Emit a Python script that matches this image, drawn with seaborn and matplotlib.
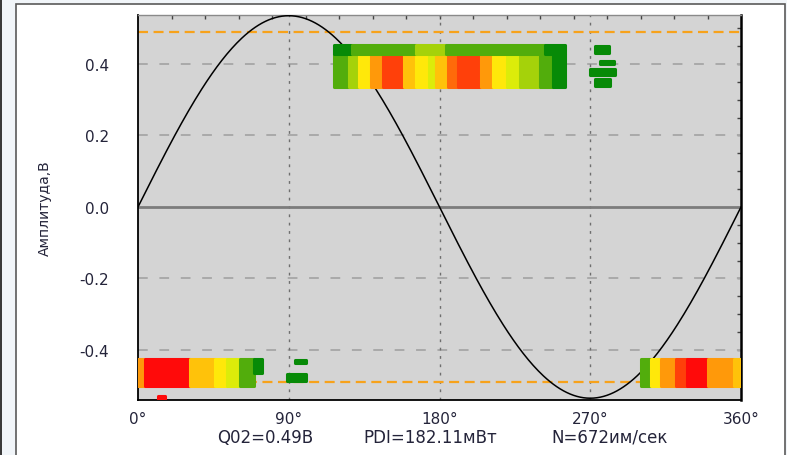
import numpy as np
import pandas as pd
import matplotlib
matplotlib.use("Agg")
import matplotlib.pyplot as plt
import seaborn as sns
from matplotlib.patches import Rectangle
from matplotlib.ticker import MultipleLocator

# ---------------- data ----------------
SINE_AMPLITUDE = 0.535          # reference voltage curve (V)
SINE_PHASE = np.arange(0, 361, 1)
THRESHOLD = 0.49                # Q02 level (V)

X_TICKS = [0, 90, 180, 270, 360]
X_LABELS = ["0°", "90°", "180°", "270°", "360°"]
Y_TICKS = [-0.4, -0.2, 0.0, 0.2, 0.4]
Y_LABELS = ["-0.4", "-0.2", "0.0", "0.2", "0.4"]

# density level colours (low -> high)
LEVEL_COLORS = ["#078a07", "#52ad0c", "#a5d20a", "#dcec0a", "#ffe80a",
                "#ffc20a", "#ff990a", "#ff6a0a", "#ff400a", "#ff0a0a"]

# positive half-period cluster: body columns
POS_BODY_EDGES = [117, 126, 132, 139, 146, 159, 166, 174, 178, 185, 191,
                  205, 212, 220, 228, 240, 248, 255]
POS_BODY_LEVELS = [1, 2, 4, 6, 8, 5, 4, 3, 5, 7, 8, 6, 4, 3, 2, 1, 0]
POS_BODY_AMP = (0.336, 0.428)
# positive cluster: upper fringe
POS_TOP_EDGES = [117, 128, 166, 184, 243, 255]
POS_TOP_LEVELS = [0, 1, 2, 1, 0]
POS_TOP_AMP = (0.428, 0.453)

# negative half-period cluster near 0°
NEG_L_EDGES = [0, 4, 31, 46, 53, 61, 69]
NEG_L_LEVELS = [6, 9, 5, 4, 3, 1]
NEG_L_AMP = (-0.502, -0.424)

# negative half-period cluster near 360°
NEG_R_EDGES = [300, 306, 312, 321, 328, 340, 356, 360]
NEG_R_LEVELS = [1, 4, 6, 8, 9, 6, 5]
NEG_R_AMP = (-0.502, -0.424)

# isolated small groups: phase_lo, phase_hi, amp_lo, amp_hi, level
BLOB_PHASE_LO = [69, 89, 94, 12, 273, 276, 270, 273]
BLOB_PHASE_HI = [74, 100, 100, 16, 281, 284, 285, 282]
BLOB_AMP_LO = [-0.465, -0.488, -0.436, -0.546, 0.430, 0.401, 0.368, 0.338]
BLOB_AMP_HI = [-0.426, -0.466, -0.427, -0.530, 0.450, 0.409, 0.386, 0.357]
BLOB_LEVEL = [0, 0, 0, 9, 0, 0, 0, 0]

STATS = ["Q02=0.49В", "PDI=182.11мВт", "N=672им/сек"]
Y_TITLE = "Амплитуда,В"

# ---------------- figure ----------------
sns.set_style("white")
plt.rcParams["font.family"] = ["DejaVu Sans"]
plt.rcParams["axes.unicode_minus"] = False
TXT = "#24243a"

fig = plt.figure(figsize=(7.87, 4.56), dpi=100)
fig.patch.set_facecolor("#f1f5f9")
# white panel with frame
fig.patches.append(Rectangle((16 / 787, -0.02), (785 - 16) / 787, 1.02 - 5 / 456,
                             transform=fig.transFigure, facecolor="white",
                             edgecolor="#5a5a5a", linewidth=1.2, zorder=-10))
fig.patches.append(Rectangle((0, 0), 2 / 787, 1, transform=fig.transFigure,
                             facecolor="#3a3a3a", edgecolor="none", zorder=-10))

ax = fig.add_axes([138 / 787, 1 - 401 / 456, (741 - 138) / 787, (401 - 16) / 456])
ax.set_facecolor("#d4d4d4")

# grid
for yv in [-0.4, -0.2, 0.2, 0.4]:
    ax.axhline(yv, color="#a9a9a9", lw=1.4, dashes=(5, 6), zorder=1)
for xv in [90, 180, 270]:
    ax.axvline(xv, color="#6e6e6e", lw=1.0, dashes=(2, 4), zorder=1)
ax.axhline(0, color="#7c7c7c", lw=2.0, zorder=1)

# threshold lines
for yv in [THRESHOLD, -THRESHOLD]:
    ax.axhline(yv, color="#f7a21b", lw=1.6, dashes=(4.5, 2.5), zorder=2)

# reference sine
sine_df = pd.DataFrame({"phase": SINE_PHASE,
                        "amp": SINE_AMPLITUDE * np.sin(np.deg2rad(SINE_PHASE))})
sns.lineplot(data=sine_df, x="phase", y="amp", color="black", lw=1.1,
             ax=ax, zorder=3)


def draw_columns(edges, levels, amp):
    for lo, hi, lev in zip(edges[:-1], edges[1:], levels):
        c = LEVEL_COLORS[lev]
        bars = ax.bar(lo, amp[1] - amp[0], width=hi - lo, bottom=amp[0],
                      align="edge", color=c, edgecolor=c, linewidth=2.2,
                      zorder=4)
        for p in bars:
            p.set_joinstyle("round")


draw_columns(POS_BODY_EDGES, POS_BODY_LEVELS, POS_BODY_AMP)
draw_columns(POS_TOP_EDGES, POS_TOP_LEVELS, POS_TOP_AMP)
draw_columns(NEG_L_EDGES, NEG_L_LEVELS, NEG_L_AMP)
draw_columns(NEG_R_EDGES, NEG_R_LEVELS, NEG_R_AMP)
for lo, hi, alo, ahi, lev in zip(BLOB_PHASE_LO, BLOB_PHASE_HI, BLOB_AMP_LO,
                                 BLOB_AMP_HI, BLOB_LEVEL):
    c = LEVEL_COLORS[lev]
    bars = ax.bar(lo, ahi - alo, width=hi - lo, bottom=alo, align="edge",
                  color=c, edgecolor=c, linewidth=2.2, zorder=4)
    for p in bars:
        p.set_joinstyle("round")

ax.set_xlim(0, 360)
ax.set_ylim(-0.54, 0.537)
ax.set_xlabel("")
ax.set_ylabel("")

ax.set_xticks(X_TICKS)
ax.set_xticklabels(X_LABELS)
ax.set_yticks(Y_TICKS)
ax.set_yticklabels(Y_LABELS)
ax.xaxis.set_minor_locator(MultipleLocator(20))
ax.yaxis.set_minor_locator(MultipleLocator(0.05))
ax.tick_params(axis="x", which="major", direction="inout", length=12, width=1.2,
               pad=2, labelsize=11, colors="black", labelcolor=TXT)
ax.tick_params(axis="x", which="minor", direction="inout", length=7, width=1.0,
               colors="black")
ax.tick_params(axis="y", which="major", direction="inout", length=12, width=1.2,
               pad=15, labelsize=11, colors="black", labelcolor=TXT)
ax.tick_params(axis="y", which="minor", direction="inout", length=7, width=1.0,
               colors="black")

for s in ["left", "bottom"]:
    ax.spines[s].set_color("black")
    ax.spines[s].set_linewidth(1.3)
ax.spines["right"].set_color("black")
ax.spines["right"].set_linewidth(1.8)
ax.spines["top"].set_color("#8a8a8a")
ax.spines["top"].set_linewidth(1.0)

top = ax.secondary_xaxis("top")
top.set_xticks(np.arange(20, 360, 20))
top.tick_params(direction="in", length=3, width=1.0, labeltop=False,
                colors="#444444")
top.spines["top"].set_visible(False)
right = ax.secondary_yaxis("right")
right.set_yticks(np.arange(-0.5, 0.51, 0.05))
right.tick_params(direction="in", length=3, width=1.0, labelright=False,
                  colors="#444444")
right.spines["right"].set_visible(False)

fig.text(45 / 787, 1 - 208 / 456, Y_TITLE, rotation=90, ha="center",
         va="center", fontsize=10, color=TXT)
for xc, s in zip([265, 430, 610], STATS):
    fig.text(xc / 787, 1 - 438 / 456, s, ha="center", va="center",
             fontsize=12, color=TXT)

fig.savefig("out.png", dpi=100, facecolor=fig.get_facecolor())
